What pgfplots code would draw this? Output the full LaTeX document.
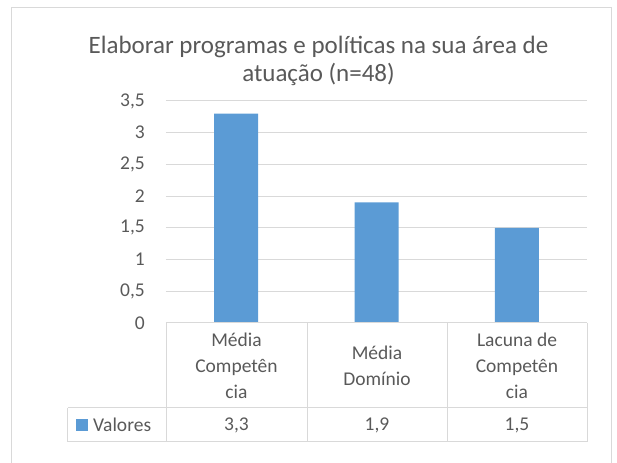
\documentclass[border=0pt]{standalone}
\usepackage{pgfplots}
\pgfplotsset{compat=1.18}
\usepackage{fontspec}
\setmainfont{Carlito}
\definecolor{barblue}{HTML}{5B9BD5}
\definecolor{txt}{HTML}{595959}
\definecolor{gridc}{HTML}{D9D9D9}
\begin{document}
\begin{tikzpicture}[x=1bp,y=1bp]
\useasboundingbox (-166,-140) rectangle (451,323);
\draw[gridc, line width=1bp] (-154,-141) -- (-154,315) -- (445,315) -- (445,-141);
\begin{axis}[
  at={(0,0)}, anchor=south west,
  scale only axis, width=421bp, height=222bp,
  xmin=0, xmax=3, ymin=0, ymax=3.5,
  ytick={0,0.5,1,1.5,2,2.5,3,3.5},
  xtick=\empty,
  axis line style={draw=none},
  major tick length=0pt,
  ymajorgrids,
  grid style={gridc, line width=1bp},
  yticklabel style={font=\fontsize{19.5bp}{20bp}\selectfont, text=txt, inner sep=0pt, xshift=-21bp},
  /pgf/number format/.cd, use comma, fixed, 1000 sep={}, assume math mode=true,
  /pgfplots/.cd,
  ybar, bar width=44bp, clip=false,
]
\addplot[fill=barblue, draw=none] coordinates {(0.5,3.3) (1.5,1.9) (2.5,1.5)};
\end{axis}
\begin{scope}[gridc, line width=1bp]
\draw (0,0) -- (421,0);
\foreach \x in {0,141,281,421} \draw (\x,0) -- (\x,-119);
\draw (-98,-85) -- (421,-85);
\draw (-98,-119) -- (421,-119);
\draw (-98,-85) -- (-98,-119);
\end{scope}
\begin{scope}[every node/.style={text=txt, align=center, font=\fontsize{19.5bp}{26bp}\selectfont}]
\node at (70.5,-42.5) {Média\\Competên\\cia};
\node at (211,-42.5) {Média\\Domínio};
\node at (351,-42.5) {Lacuna de\\Competên\\cia};
\node at (70.5,-102) {3,3};
\node at (211,-102) {1,9};
\node at (351,-102) {1,5};
\node[anchor=west, inner sep=0pt] at (-73,-102) {Valores};
\end{scope}
\fill[barblue] (-90,-96) rectangle (-78,-108);
\node[text=txt, align=center, font=\fontsize{25bp}{28bp}\selectfont] at (152.5,262) {Elaborar programas e políticas na sua área de\\atuação (n=48)};
\end{tikzpicture}
\end{document}
